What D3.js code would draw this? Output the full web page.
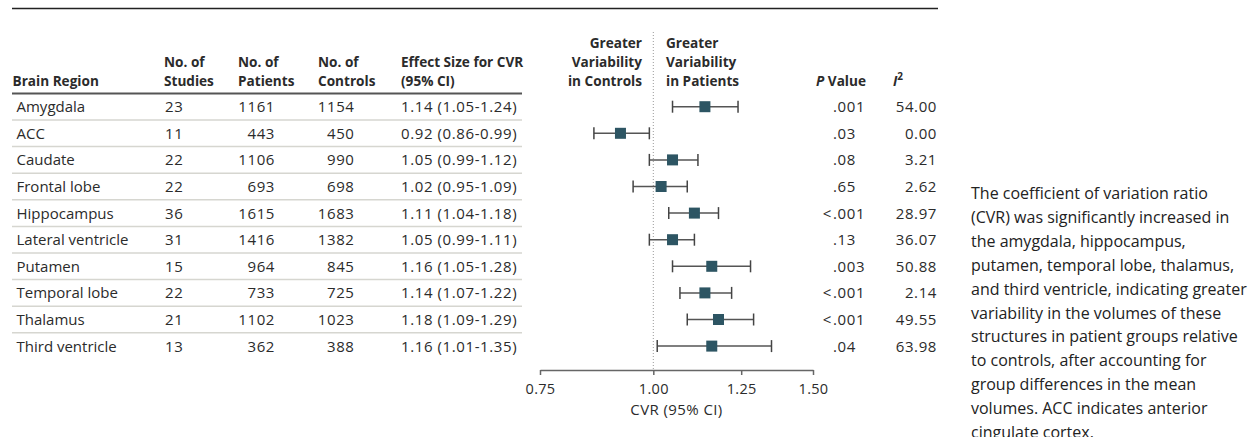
<!DOCTYPE html>
<html>
<head>
<meta charset="utf-8">
<script src="https://cdn.jsdelivr.net/npm/d3@7"></script>
<style>
  body { margin: 0; background: #fff; }
  svg { display: block; font-family: "Open Sans", Lato, sans-serif; }
</style>
</head>
<body>
<svg width="1259" height="437"></svg>
<script>
(() => {

    // data
    var regions = ["Amygdala", "ACC", "Caudate", "Frontal lobe", "Hippocampus", "Lateral ventricle",
        "Putamen", "Temporal lobe", "Thalamus", "Third ventricle"];
    var studies = [23, 11, 22, 22, 36, 31, 15, 22, 21, 13];
    var patients = [1161, 443, 1106, 693, 1615, 1416, 964, 733, 1102, 362];
    var controls = [1154, 450, 990, 698, 1683, 1382, 845, 725, 1023, 388];
    var cvr = [1.14, 0.92, 1.05, 1.02, 1.11, 1.05, 1.16, 1.14, 1.18, 1.16];
    var ciLow = [1.05, 0.86, 0.99, 0.95, 1.04, 0.99, 1.05, 1.07, 1.09, 1.01];
    var ciHigh = [1.24, 0.99, 1.12, 1.09, 1.18, 1.11, 1.28, 1.22, 1.29, 1.35];
    var pValues = [".001", ".03", ".08", ".65", "<.001", ".13", ".003", "<.001", "<.001", ".04"];
    var iSquared = ["54.00", "0.00", "3.21", "2.62", "28.97", "36.07", "50.88", "2.14", "49.55", "63.98"];
    var xTicks = [0.75, 1.00, 1.25, 1.50];

    var caption = [
        "The coefficient of variation ratio",
        "(CVR) was significantly increased in",
        "the amygdala, hippocampus,",
        "putamen, temporal lobe, thalamus,",
        "and third ventricle, indicating greater",
        "variability in the volumes of these",
        "structures in patient groups relative",
        "to controls, after accounting for",
        "group differences in the mean",
        "volumes. ACC indicates anterior",
        "cingulate cortex."
    ];

    var data = regions.map(function (r, i) {
        return {
            region: r, studies: studies[i], patients: patients[i], controls: controls[i],
            cvr: cvr[i], lo: ciLow[i], hi: ciHigh[i], p: pValues[i], i2: iSquared[i]
        };
    });

    var svg = d3.select("svg");
    var textColor = "#2b2b2b";
    var fs = 15;      // body text
    var hfs = 13.6;   // bold header text
    var numSpace = 0.6;

    // rows
    var y = d3.scaleBand()
        .domain(regions)
        .range([93.4, 359.4]);

    // log scale for CVR
    var x = d3.scaleLog()
        .domain([0.75, 1.5])
        .range([540, 813]);

    // top rule
    svg.append("line")
        .attr("x1", 12).attr("x2", 938)
        .attr("y1", 8.5).attr("y2", 8.5)
        .attr("stroke", "#222").attr("stroke-width", 1.3);

    // header
    var header = svg.append("g")
        .attr("font-weight", "bold")
        .attr("font-size", hfs)
        .attr("fill", textColor);

    function headText(x0, lines, anchor) {
        var t = header.append("text")
            .attr("text-anchor", anchor || "start");
        lines.forEach(function (l, k) {
            t.append("tspan")
                .attr("x", x0)
                .attr("y", 86 - (lines.length - 1 - k) * 19)
                .text(l);
        });
    }
    headText(12.5, ["Brain Region"]);
    headText(164, ["No. of", "Studies"]);
    headText(238, ["No. of", "Patients"]);
    headText(318, ["No. of", "Controls"]);
    headText(401, ["Effect Size for CVR", "(95% CI)"]);
    headText(642, ["Greater", "Variability", "in Controls"], "end");
    headText(666, ["Greater", "Variability", "in Patients"]);

    var pHead = header.append("text")
        .attr("x", 866).attr("y", 86)
        .attr("text-anchor", "end");
    pHead.append("tspan").attr("font-style", "italic").text("P");
    pHead.append("tspan").text(" Value");

    var iHead = header.append("text")
        .attr("x", 893).attr("y", 86);
    iHead.append("tspan").attr("font-style", "italic").text("I");
    iHead.append("tspan").attr("font-size", 10).attr("dy", -6).text("2");

    // header underline
    svg.append("line")
        .attr("x1", 12).attr("x2", 522)
        .attr("y1", 93.5).attr("y2", 93.5)
        .attr("stroke", "#555").attr("stroke-width", 2);

    // row separators
    svg.selectAll(".sep")
        .data(regions.slice(0, -1))
        .enter().append("line")
        .attr("class", "sep")
        .attr("x1", 12).attr("x2", 522)
        .attr("y1", function (d) { return y(d) + y.bandwidth(); })
        .attr("y2", function (d) { return y(d) + y.bandwidth(); })
        .attr("stroke", "#d6d6d0").attr("stroke-width", 1.5);

    // table cells
    var rows = svg.selectAll(".row")
        .data(data)
        .enter().append("g")
        .attr("class", "row")
        .attr("font-size", fs)
        .attr("fill", textColor)
        .attr("transform", function (d) { return "translate(0," + (y(d.region) + y.bandwidth() / 2 + 5.5) + ")"; });

    rows.append("text").attr("x", 16.5).text(function (d) { return d.region; });

    var nums = rows.append("g").attr("letter-spacing", numSpace);
    nums.append("text").attr("x", 165).text(function (d) { return d.studies; });
    nums.append("text").attr("x", 275).attr("text-anchor", "end").text(function (d) { return d.patients; });
    nums.append("text").attr("x", 354.5).attr("text-anchor", "end").text(function (d) { return d.controls; });
    nums.append("text").attr("x", 401).text(function (d) {
        return d.cvr.toFixed(2) + " (" + d.lo.toFixed(2) + "-" + d.hi.toFixed(2) + ")";
    });
    // p values aligned on the decimal point
    nums.append("text").attr("x", 833).text(function (d) { return d.p.replace("<", ""); });
    nums.filter(function (d) { return d.p[0] === "<"; })
        .append("text").attr("x", 832).attr("text-anchor", "end").text("<");
    nums.append("text").attr("x", 937).attr("text-anchor", "end").text(function (d) { return d.i2; });

    // reference line at 1
    svg.append("line")
        .attr("x1", x(1)).attr("x2", x(1))
        .attr("y1", 32).attr("y2", 370)
        .attr("stroke", "#999").attr("stroke-width", 1)
        .attr("stroke-dasharray", "1,2");

    // CI whiskers
    var plot = svg.selectAll(".ci")
        .data(data)
        .enter().append("g")
        .attr("class", "ci")
        .attr("transform", function (d) { return "translate(0," + (y(d.region) + y.bandwidth() / 2) + ")"; });

    plot.append("line")
        .attr("x1", function (d) { return x(d.lo); })
        .attr("x2", function (d) { return x(d.hi); })
        .attr("stroke", "#555").attr("stroke-width", 1.5);
    plot.append("line")
        .attr("x1", function (d) { return x(d.lo); })
        .attr("x2", function (d) { return x(d.lo); })
        .attr("y1", -6).attr("y2", 6)
        .attr("stroke", "#444").attr("stroke-width", 1.5);
    plot.append("line")
        .attr("x1", function (d) { return x(d.hi); })
        .attr("x2", function (d) { return x(d.hi); })
        .attr("y1", -6).attr("y2", 6)
        .attr("stroke", "#444").attr("stroke-width", 1.5);
    plot.append("rect")
        .attr("x", function (d) { return x(d.cvr) - 5.5; })
        .attr("y", -5.5)
        .attr("width", 11).attr("height", 11)
        .attr("fill", "#2d5563");

    // x axis
    var xAxis = d3.axisBottom(x)
        .tickValues(xTicks)
        .tickFormat(d3.format(".2f"))
        .tickSize(5)
        .tickSizeOuter(0);

    var ax = svg.append("g")
        .attr("transform", "translate(0,370)")
        .call(xAxis);
    ax.select(".domain").attr("stroke", "#666").attr("stroke-width", 1.5);
    ax.selectAll(".tick line").attr("stroke", "#666").attr("stroke-width", 1.5);
    ax.selectAll(".tick text")
        .attr("font-family", "'Open Sans', sans-serif")
        .attr("font-size", 14.5)
        .attr("letter-spacing", 0.3)
        .attr("fill", textColor)
        .attr("dy", "1.1em");

    svg.append("text")
        .attr("x", (x.range()[0] + x.range()[1]) / 2)
        .attr("y", 415)
        .attr("text-anchor", "middle")
        .attr("font-size", fs)
        .attr("letter-spacing", 0.4)
        .attr("fill", textColor)
        .text("CVR (95% CI)");

    // caption on the right
    var cap = svg.append("text")
        .attr("font-size", 16)
        .attr("fill", "#222");
    caption.forEach(function (l, k) {
        cap.append("tspan")
            .attr("x", 971)
            .attr("y", 199 + k * 23.9)
            .text(l);
    });

})();
</script>
</body>
</html>
